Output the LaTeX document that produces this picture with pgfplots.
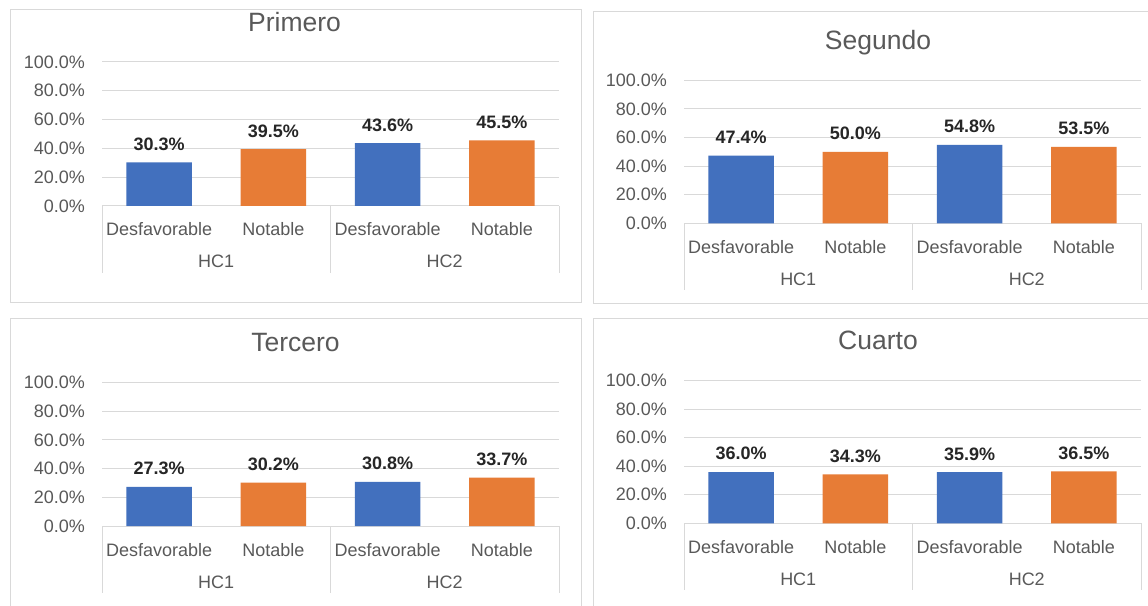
\documentclass[border=0pt]{standalone}
\usepackage{pgfplots}
\pgfplotsset{compat=1.18}
\usepackage{fontspec}
\setmainfont{Liberation Sans}
\definecolor{barblue}{HTML}{4270BE}
\definecolor{barorange}{HTML}{E77C36}
\definecolor{gridgray}{HTML}{D9D9D9}
\definecolor{txtgray}{HTML}{595959}
\definecolor{lblblack}{HTML}{262626}
\newcommand{\fs}{\fontsize{18}{21}\selectfont}
\newcommand{\ts}{\fontsize{26.5}{30}\selectfont}

\pgfplotsset{
 panel/.style={
  scale only axis, width=457pt,
  xmin=-0.5, xmax=3.5, ymin=0, ymax=100,
  axis x line*=bottom, axis y line*=left,
  x axis line style={draw=gridgray, line width=1pt, -},
  y axis line style={draw=none},
  ytick={0,20,...,100},
  yticklabels={0.0\%,20.0\%,40.0\%,60.0\%,80.0\%,100.0\%},
  xtick={0,1,2,3},
  xticklabels={Desfavorable,Notable,Desfavorable,Notable},
  major tick length=0pt,
  ymajorgrids, grid style={gridgray, line width=1pt},
  yticklabel style={font=\fs, text=txtgray, inner sep=0pt, anchor=east, xshift=-17pt},
  xticklabel style={font=\fs, text=txtgray, inner sep=0pt, anchor=base, yshift=-30pt},
  /pgf/number format/assume math mode=true,
  clip=false,
  anchor=south west,
 },
 bars/.style={ybar, bar shift=0pt, bar width=0.575, draw=none, fill=#1,
  nodes near coords={\pgfmathprintnumber[fixed,fixed zerofill,precision=1]{\pgfplotspointmeta}\%},
  every node near coord/.append style={font=\fs\bfseries, text=lblblack, anchor=base, yshift=12pt, inner sep=0pt}},
}
\newcommand{\extras}{%
  \draw[gridgray, line width=1pt] (rel axis cs:0,0) -- ([yshift=-67pt]rel axis cs:0,0);
  \draw[gridgray, line width=1pt] (rel axis cs:0.5,0) -- ([yshift=-67pt]rel axis cs:0.5,0);
  \draw[gridgray, line width=1pt] (rel axis cs:1,0) -- ([yshift=-67pt]rel axis cs:1,0);
  \node[font=\fs, text=txtgray, anchor=base, inner sep=0pt, yshift=-62pt] at (axis cs:0.5,0) {HC1};
  \node[font=\fs, text=txtgray, anchor=base, inner sep=0pt, yshift=-62pt] at (axis cs:2.5,0) {HC2};
}

\begin{document}
\begin{tikzpicture}
\clip (0,0) rectangle (1148pt,605pt);
\fill[white] (0,0) rectangle (1148pt,605pt);
% panel borders
\draw[gridgray, line width=1pt] (10pt,302pt) rectangle (581pt,595pt);
\draw[gridgray, line width=1pt] (593pt,301pt) rectangle (1163pt,593pt);
\draw[gridgray, line width=1pt] (10pt,-10pt) rectangle (581pt,286pt);
\draw[gridgray, line width=1pt] (593pt,-10pt) rectangle (1163pt,286pt);
% titles
\node[font=\ts, text=txtgray, anchor=base, inner sep=0pt] at (294.5pt,573pt) {Primero};
\node[font=\ts, text=txtgray, anchor=base, inner sep=0pt] at (878pt,555pt) {Segundo};
\node[font=\ts, text=txtgray, anchor=base, inner sep=0pt] at (295.5pt,253pt) {Tercero};
\node[font=\ts, text=txtgray, anchor=base, inner sep=0pt] at (878pt,255pt) {Cuarto};

% Primero
\begin{axis}[panel, at={(102pt,399pt)}, height=144pt]
\addplot[bars=barblue] coordinates {(0,30.3) (2,43.6)};
\addplot[bars=barorange] coordinates {(1,39.5) (3,45.5)};
\extras
\end{axis}

% Segundo
\begin{axis}[panel, at={(684pt,381.7pt)}, height=143pt]
\addplot[bars=barblue] coordinates {(0,47.4) (2,54.8)};
\addplot[bars=barorange] coordinates {(1,50.0) (3,53.5)};
\extras
\end{axis}

% Tercero
\begin{axis}[panel, at={(102pt,79pt)}, height=143.5pt]
\addplot[bars=barblue] coordinates {(0,27.3) (2,30.8)};
\addplot[bars=barorange] coordinates {(1,30.2) (3,33.7)};
\extras
\end{axis}

% Cuarto
\begin{axis}[panel, at={(684pt,81.7pt)}, height=142.5pt]
\addplot[bars=barblue] coordinates {(0,36.0) (2,35.9)};
\addplot[bars=barorange] coordinates {(1,34.3) (3,36.5)};
\extras
\end{axis}
\end{tikzpicture}
\end{document}
